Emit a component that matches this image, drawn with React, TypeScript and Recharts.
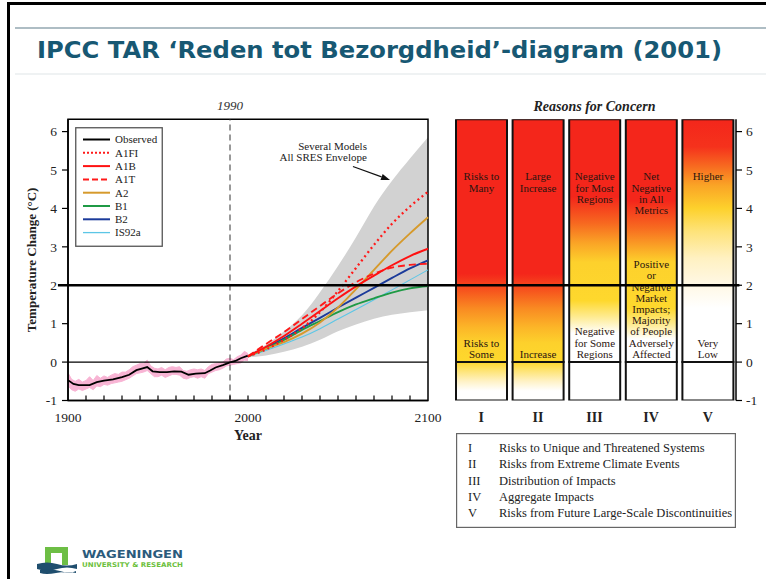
import React from 'react';
import {
  ComposedChart, Line, Area, XAxis, YAxis, ReferenceLine, ReferenceArea, Legend,
  BarChart, Bar, Cell, LabelList,
} from 'recharts';

const W = 766;
const H = 579;
const SERIF = '"Liberation Serif", "Times New Roman", Times, serif';

// ---------------- Left panel: temperature change ----------------
const observedYears = [1900, 1903, 1906, 1912, 1916, 1920, 1925, 1930, 1934, 1938, 1941, 1944, 1947, 1951, 1955, 1959, 1963, 1967, 1971, 1976, 1979, 1982, 1986, 1990, 1993, 1996, 2000];
const observedTemps = [-0.47, -0.57, -0.6, -0.6, -0.52, -0.48, -0.45, -0.39, -0.33, -0.21, -0.17, -0.13, -0.24, -0.26, -0.26, -0.24, -0.25, -0.33, -0.3, -0.29, -0.22, -0.14, -0.08, -0.01, 0.03, 0.1, 0.17];

const annualYears = [1900, 1902, 1904, 1906, 1908, 1910, 1912, 1914, 1916, 1918, 1920, 1922, 1924, 1926, 1928, 1930, 1932, 1934, 1936, 1938, 1940, 1942, 1944, 1946, 1948, 1950, 1952, 1954, 1956, 1958, 1960, 1962, 1964, 1966, 1968, 1970, 1972, 1974, 1976, 1978, 1980, 1982, 1984, 1986, 1988, 1990, 1992, 1994, 1996, 1998, 2000];
const annualLow = [-0.62, -0.72, -0.76, -0.7, -0.74, -0.7, -0.66, -0.72, -0.62, -0.64, -0.58, -0.6, -0.56, -0.54, -0.52, -0.5, -0.46, -0.42, -0.36, -0.3, -0.28, -0.26, -0.22, -0.3, -0.38, -0.38, -0.34, -0.4, -0.36, -0.32, -0.32, -0.34, -0.42, -0.44, -0.4, -0.38, -0.42, -0.38, -0.42, -0.3, -0.26, -0.22, -0.2, -0.16, -0.1, -0.08, -0.06, -0.04, -0.02, 0.05, 0.04];
const annualHigh = [-0.28, -0.45, -0.5, -0.45, -0.52, -0.48, -0.38, -0.48, -0.35, -0.42, -0.36, -0.4, -0.34, -0.3, -0.32, -0.26, -0.26, -0.2, -0.12, -0.08, -0.04, -0.04, 0.05, -0.1, -0.16, -0.18, -0.14, -0.2, -0.14, -0.12, -0.14, -0.12, -0.22, -0.24, -0.2, -0.18, -0.2, -0.18, -0.22, -0.12, -0.06, -0.04, -0.02, 0.0, 0.08, 0.1, 0.06, 0.14, 0.18, 0.28, 0.22];

const projectionYears = [2000, 2010, 2020, 2030, 2040, 2050, 2060, 2070, 2080, 2090, 2100];
const envelopeLow = [0.12, 0.17, 0.27, 0.4, 0.58, 0.8, 0.98, 1.13, 1.23, 1.3, 1.35];
const envelopeHigh = [0.2, 0.45, 0.8, 1.22, 1.82, 2.5, 3.25, 4.05, 4.72, 5.3, 5.85];
const a1fiTemps = [0.15, 0.33, 0.58, 0.88, 1.3, 1.85, 2.45, 3.05, 3.6, 4.05, 4.43];
const a1bTemps = [0.15, 0.4, 0.68, 1.0, 1.33, 1.66, 1.97, 2.25, 2.52, 2.76, 2.95];
const a1tTemps = [0.15, 0.47, 0.78, 1.12, 1.46, 1.79, 2.08, 2.3, 2.46, 2.53, 2.56];
const a2Temps = [0.15, 0.35, 0.52, 0.74, 1.03, 1.42, 1.9, 2.4, 2.9, 3.35, 3.77];
const b1Temps = [0.15, 0.35, 0.58, 0.84, 1.07, 1.3, 1.5, 1.66, 1.81, 1.92, 1.98];
const b2Temps = [0.15, 0.38, 0.62, 0.89, 1.15, 1.42, 1.68, 1.93, 2.19, 2.44, 2.65];
const is92aTemps = [0.15, 0.3, 0.47, 0.65, 0.87, 1.12, 1.37, 1.62, 1.88, 2.14, 2.4];

const seriesNames = ['Observed', 'A1FI', 'A1B', 'A1T', 'A2', 'B1', 'B2', 'IS92a'];
const scenarioNames = ['A1FI', 'A1B', 'A1T', 'A2', 'B1', 'B2', 'IS92a'];
const scenarioValues = [a1fiTemps, a1bTemps, a1tTemps, a2Temps, b1Temps, b2Temps, is92aTemps];

const tempTicks = [-1, 0, 1, 2, 3, 4, 5, 6];
const decadeTicks = [1900, 1910, 1920, 1930, 1940, 1950, 1960, 1970, 1980, 1990, 2000, 2010, 2020, 2030, 2040, 2050, 2060, 2070, 2080, 2090, 2100];
const yearLabels = [1900, 2000, 2100];
const baseYear = 1990;
const thresholdTemp = 2;
const tempMin = -1;
const tempMax = 6.32;
const envelopeNote = ['Several Models', 'All SRES Envelope'];

// ---------------- Right panel: reasons for concern ----------------
const concernIds = ['I', 'II', 'III', 'IV', 'V'];
const concernNames = [
  'Risks to Unique and Threatened Systems',
  'Risks from Extreme Climate Events',
  'Distribution of Impacts',
  'Aggregate Impacts',
  'Risks from Future Large-Scale Discontinuities',
];
const upperTexts = [
  ['Risks to', 'Many'],
  ['Large', 'Increase'],
  ['Negative', 'for Most', 'Regions'],
  ['Net', 'Negative', 'in All', 'Metrics'],
  ['Higher'],
];
const lowerTexts = [
  ['Risks to', 'Some'],
  ['Increase'],
  ['Negative', 'for Some', 'Regions'],
  ['Positive', 'or', 'Negative', 'Market', 'Impacts;', 'Majority', 'of People', 'Adversely', 'Affected'],
  ['Very', 'Low'],
];

// ---------------- Styles ----------------
const SERIES_STYLE: Record<string, { stroke: string; width: number; dash?: string }> = {
  Observed: { stroke: '#000000', width: 1.8 },
  A1FI: { stroke: '#ff1a1a', width: 2.3, dash: '2 3.2' },
  A1B: { stroke: '#ff1111', width: 1.9 },
  A1T: { stroke: '#ff1a1a', width: 1.9, dash: '7 4' },
  A2: { stroke: '#d69a2c', width: 1.9 },
  B1: { stroke: '#1f9a45', width: 1.9 },
  B2: { stroke: '#1b3a9a', width: 1.9 },
  IS92a: { stroke: '#5cc6e6', width: 1.1 },
};
const RED = '#f4261b';
const UPPER_STOPS: [number, string][][] = [
  [[6.32, RED], [2.3, RED], [1.9, '#f6501d'], [1.4, '#f98a22'], [0.9, '#fcb628'], [0.5, '#fdd12c'], [0, '#fed82d']],
  [[6.32, RED], [2.3, RED], [1.9, '#f6501d'], [1.4, '#f98a22'], [0.9, '#fcb628'], [0.5, '#fdd12c'], [0, '#fed82d']],
  [[6.32, RED], [4.3, RED], [3.6, '#f76a20'], [3.1, '#faa426'], [2.6, '#fdd12c'], [1.6, '#fed82d'], [1.2, '#feea8c'], [0.75, '#ffffff'], [0, '#ffffff']],
  [[6.32, RED], [4.2, RED], [3.5, '#f76a20'], [3.0, '#faa426'], [2.6, '#fdd12c'], [1.4, '#fed82d'], [1.0, '#feea8c'], [0.6, '#ffffff'], [0, '#ffffff']],
  [[6.32, RED], [5.6, '#f5321c'], [5.1, '#f76a20'], [4.6, '#faa426'], [4.0, '#fdd12c'], [3.4, '#fee37a'], [2.7, '#fff1c2'], [2.0, '#fff8e6'], [1.4, '#ffffff'], [0, '#ffffff']],
];
const LOWER_STOPS: [number, string][][] = [
  [[0, '#fed62d'], [-0.25, '#fee57c'], [-0.5, '#fff2c6'], [-0.75, '#ffffff'], [-1, '#ffffff']],
  [[0, '#fed62d'], [-0.25, '#fee57c'], [-0.5, '#fff2c6'], [-0.75, '#ffffff'], [-1, '#ffffff']],
  [[0, '#ffffff'], [-1, '#ffffff']],
  [[0, '#ffffff'], [-1, '#ffffff']],
  [[0, '#ffffff'], [-1, '#ffffff']],
];

// ---------------- Derived tables ----------------
const observedData = observedYears.map((year, i) => ({ year, Observed: observedTemps[i] }));
const annualData = annualYears.map((year, i) => ({ year, annual: [annualLow[i], annualHigh[i]] }));
const projectionData = projectionYears.map((year, i) => {
  const row: any = { year, envelope: [envelopeLow[i], envelopeHigh[i]] };
  scenarioNames.forEach((n, k) => { row[n] = scenarioValues[k][i]; });
  return row;
});
const concernData = concernIds.map((id) => ({ id, high: tempMax, low: tempMin }));

// ---------------- Renderers ----------------
const YearTick = (p: any) => {
  const { x, y, payload } = p;
  const v = payload.value;
  return (
    <g>
      {v !== decadeTicks[0] && v !== decadeTicks[decadeTicks.length - 1] && (
        <line x1={x} x2={x} y1={y} y2={y - 5} stroke="#000" strokeWidth={1.2} />
      )}
      {yearLabels.includes(v) && (
        <text x={x} y={y + 21} textAnchor="middle" fontFamily={SERIF} fontSize={13.5} fill="#222">{v}</text>
      )}
    </g>
  );
};

const YearLabel = (p: any) => {
  const vb = p.viewBox || {};
  return (
    <text x={vb.x + vb.width / 2} y={vb.y + 39} textAnchor="middle" fontFamily={SERIF} fontWeight="bold" fontSize={14} fill="#222">Year</text>
  );
};

const TempLabel = (p: any) => {
  const vb = p.viewBox || {};
  const cx = vb.x + 4;
  const cy = vb.y + vb.height / 2;
  return (
    <text x={cx} y={cy} transform={`rotate(-90 ${cx} ${cy})`} textAnchor="middle" dominantBaseline="central" fontFamily={SERIF} fontWeight="bold" fontSize={13} fill="#222">Temperature Change (°C)</text>
  );
};

const BaseYearLabel = (p: any) => {
  const vb = p.viewBox || {};
  return (
    <text x={vb.x} y={vb.y - 9} textAnchor="middle" fontFamily={SERIF} fontStyle="italic" fontSize={13} fill="#333">{baseYear}</text>
  );
};

const ArrowShape = (p: any) => {
  const { x1, y1, x2, y2 } = p;
  const ang = Math.atan2(y2 - y1, x2 - x1);
  const L = 9, Wd = 3.2;
  const bx = x2 - L * Math.cos(ang), by = y2 - L * Math.sin(ang);
  const nx = -Math.sin(ang), ny = Math.cos(ang);
  return (
    <g>
      <line x1={x1} y1={y1} x2={bx} y2={by} stroke="#111" strokeWidth={1.2} />
      <polygon points={`${x2},${y2} ${bx + nx * Wd},${by + ny * Wd} ${bx - nx * Wd},${by - ny * Wd}`} fill="#111" />
      <text x={x1 + 14} y={y1 - 17} textAnchor="end" fontFamily={SERIF} fontSize={11} fill="#222">{envelopeNote[0]}</text>
      <text x={x1 + 14} y={y1 - 5.5} textAnchor="end" fontFamily={SERIF} fontSize={11} fill="#222">{envelopeNote[1]}</text>
    </g>
  );
};

const SeriesLegend = () => (
  <svg width={88} height={120} style={{ display: 'block' }}>
    <rect x={0.75} y={0.75} width={86.5} height={118.5} fill="#fff" stroke="#555" strokeWidth={1.3} />
    {seriesNames.map((n, i) => {
      const s = SERIES_STYLE[n];
      const cy = 12.5 + i * 13.3;
      return (
        <g key={n}>
          <line x1={8} x2={35} y1={cy} y2={cy} stroke={s.stroke} strokeWidth={s.width === 1.1 ? 1.3 : 2}
            strokeDasharray={n === 'A1FI' ? '2 2' : n === 'A1T' ? '6 3' : undefined} />
          <text x={40} y={cy + 3.8} fontFamily={SERIF} fontSize={11} fill="#222">{n}</text>
        </g>
      );
    })}
  </svg>
);

const RomanTick = (p: any) => {
  const { x, y, payload } = p;
  return (
    <text x={x} y={y + 21} textAnchor="middle" fontFamily={SERIF} fontWeight="bold" fontSize={14} fill="#222">{payload.value}</text>
  );
};

const BarText = (p: any) => {
  const vb = p.viewBox && p.viewBox.width !== undefined ? p.viewBox : p;
  const { x, y, width, height } = vb;
  const idx = concernIds.indexOf(p.value);
  if (idx < 0) return null;
  const unit = height / tempMax;
  const yOf = (v: number) => y + (tempMax - v) * unit;
  const cx = x + width / 2;
  const lh = 11.2;
  const upTop = yOf(4.83);
  const lo = lowerTexts[idx];
  const loBottom = yOf(0.21);
  return (
    <g fontFamily={SERIF} fontSize={11} fill="#2b1510" textAnchor="middle">
      {upperTexts[idx].map((t, i) => (
        <text key={'u' + i} x={cx} y={upTop + i * lh + 3.8}>{t}</text>
      ))}
      {lo.map((t, i) => (
        <text key={'l' + i} x={cx} y={loBottom - (lo.length - 1 - i) * lh + 3.8}>{t}</text>
      ))}
    </g>
  );
};

const ConcernLegend = () => (
  <svg width={280} height={95} style={{ display: 'block' }}>
    <rect x={0.6} y={0.6} width={278.8} height={93.8} fill="#fff" stroke="#666" strokeWidth={1.2} />
    {concernIds.map((id, i) => {
      const cy = 14.7 + i * 16.3;
      return (
        <g key={id} fontFamily={SERIF} fontSize={12.5} fill="#222">
          <text x={12} y={cy + 4.2}>{id}</text>
          <text x={43} y={cy + 4.2}>{concernNames[i]}</text>
        </g>
      );
    })}
  </svg>
);

const stopsToGradient = (id: string, stops: [number, string][], top: number, bottom: number) => (
  <linearGradient key={id} id={id} x1="0" y1="0" x2="0" y2="1">
    {stops.map(([v, c], k) => (
      <stop key={k} offset={(top - v) / (top - bottom)} stopColor={c} />
    ))}
  </linearGradient>
);

export default function App() {
  return (
    <div style={{ position: 'absolute', left: 0, top: 0, width: W, height: H, background: '#fff', overflow: 'hidden' }}>
      {/* Right panel */}
      <div style={{ position: 'absolute', left: 0, top: 0 }}>
        <BarChart width={W} height={H} data={concernData} stackOffset="sign" barSize={51}
          margin={{ top: 119.3, right: 0, bottom: 148.5, left: 453 }}>
          <defs>
            {UPPER_STOPS.map((s, i) => stopsToGradient('up' + i, s, tempMax, 0))}
            {LOWER_STOPS.map((s, i) => stopsToGradient('lo' + i, s, 0, tempMin))}
          </defs>
          <XAxis dataKey="id" axisLine={false} tickLine={false} tickSize={0} tickMargin={0} height={30} interval={0} tick={RomanTick} />
          <YAxis orientation="right" type="number" domain={[tempMin, tempMax]} allowDataOverflow ticks={tempTicks} width={30}
            tickSize={6} tickMargin={4} axisLine={{ stroke: '#000', strokeWidth: 1.5 }} tickLine={{ stroke: '#000', strokeWidth: 1.2 }}
            tick={{ fontFamily: SERIF, fontSize: 13.5, fill: '#222' }} />
          <Bar dataKey="low" stackId="s" isAnimationActive={false} stroke="#111" strokeWidth={2}>
            {concernData.map((d, i) => <Cell key={d.id} fill={`url(#lo${i})`} />)}
          </Bar>
          <Bar dataKey="high" stackId="s" isAnimationActive={false} stroke="#111" strokeWidth={2}>
            {concernData.map((d, i) => <Cell key={d.id} fill={`url(#up${i})`} />)}
            <LabelList dataKey="id" content={BarText} />
          </Bar>
          <Legend layout="vertical" align="center" verticalAlign="middle" content={ConcernLegend}
            wrapperStyle={{ left: 456, top: 433, width: 280, height: 95 }} />
        </BarChart>
      </div>

      {/* Left panel */}
      <div style={{ position: 'absolute', left: 0, top: 0 }}>
        <ComposedChart width={W} height={H} margin={{ top: 119.3, right: 338, bottom: 148.5, left: 28 }}>
          <XAxis dataKey="year" type="number" domain={[1900, 2100]} ticks={decadeTicks} interval={0} height={30}
            tickSize={0} tickMargin={0} tickLine={false} axisLine={{ stroke: '#000', strokeWidth: 1.5 }}
            tick={YearTick} label={YearLabel} allowDuplicatedCategory={false} />
          <YAxis type="number" domain={[tempMin, tempMax]} allowDataOverflow ticks={tempTicks} width={40}
            tickSize={6} tickMargin={5} axisLine={{ stroke: '#000', strokeWidth: 1.5 }} tickLine={{ stroke: '#000', strokeWidth: 1.2 }}
            tick={{ fontFamily: SERIF, fontSize: 13.5, fill: '#222' }} label={TempLabel} />
          <Area data={annualData} dataKey="annual" type="linear" fill="#f8b4d4" fillOpacity={1} stroke="#f8b4d4" strokeWidth={1}
            isAnimationActive={false} legendType="none" dot={false} activeDot={false} />
          <Area data={projectionData} dataKey="envelope" type="monotone" fill="#d2d2d2" fillOpacity={1} stroke="none"
            isAnimationActive={false} legendType="none" dot={false} activeDot={false} />
          <ReferenceLine y={0} stroke="#000" strokeWidth={1.3} />
          <ReferenceLine x={baseYear} stroke="#333" strokeWidth={1} strokeDasharray="6 4" label={BaseYearLabel} />
          <Line data={observedData} dataKey="Observed" type="linear" stroke={SERIES_STYLE.Observed.stroke}
            strokeWidth={SERIES_STYLE.Observed.width} dot={false} activeDot={false} isAnimationActive={false} />
          {[...scenarioNames].reverse().map((n) => (
            <Line key={n} data={projectionData} dataKey={n} type="monotone" stroke={SERIES_STYLE[n].stroke}
              strokeWidth={SERIES_STYLE[n].width} strokeDasharray={SERIES_STYLE[n].dash}
              dot={false} activeDot={false} isAnimationActive={false} />
          ))}
          <ReferenceArea x1={1900} x2={2100} y1={tempMin} y2={tempMax} fill="none" stroke="#000" strokeWidth={1.5} ifOverflow="visible" />
          <ReferenceLine segment={[{ x: 2058.3, y: 5.09 }, { x: 2078.9, y: 4.74 }]} ifOverflow="visible" shape={ArrowShape} />
          <ReferenceLine segment={[{ x: 1894.4, y: thresholdTemp }, { x: 2273, y: thresholdTemp }]} ifOverflow="visible"
            stroke="#000" strokeWidth={2.6} />
          <Legend layout="vertical" align="center" verticalAlign="middle" content={SeriesLegend}
            wrapperStyle={{ left: 75, top: 127, width: 88, height: 120 }} />
        </ComposedChart>
      </div>

      {/* Slide frame, title, panel heading and logo */}
      <svg width={W} height={H} style={{ position: 'absolute', left: 0, top: 0, pointerEvents: 'none' }}>
        <rect x={7} y={2} width={W} height={3} fill="#000" />
        <rect x={7} y={2} width={3} height={H} fill="#000" />
        <line x1={15} y1={28} x2={W} y2={28} stroke="#aebdc4" strokeWidth={2} />
        <line x1={15} y1={74} x2={W} y2={74} stroke="#dfe5e8" strokeWidth={1.2} />
        <text x={37} y={58} textLength={685} lengthAdjust="spacingAndGlyphs" fontFamily='"DejaVu Sans", Verdana, sans-serif'
          fontWeight="bold" fontSize={23} fill="#175873">IPCC TAR ‘Reden tot Bezorgdheid’-diagram (2001)</text>
        <text x={594.5} y={110.5} textAnchor="middle" fontFamily={SERIF} fontStyle="italic" fontWeight="bold" fontSize={14} fill="#222">Reasons for Concern</text>
        {/* logo */}
        <path d="M45 547 H68 V565 H62 V553 H51 V565 H45 Z" fill="#6dbe45" />
        <path d="M37 564 Q47 561 57 564 T77 564 L77 569 Q67 566 57 569 T37 569 Z" fill="#1f4e6e" />
        <path d="M40 570 Q50 568 60 571 T76 571 L76 573 Q66 571 56 573 T40 573 Z" fill="#1f4e6e" />
        <text x={82} y={558} textLength={101} lengthAdjust="spacingAndGlyphs" fontFamily='"DejaVu Sans", sans-serif' fontWeight="bold" fontSize={11} fill="#2b5b7c">WAGENINGEN</text>
        <text x={82} y={567} textLength={101} lengthAdjust="spacingAndGlyphs" fontFamily='"DejaVu Sans", sans-serif' fontWeight="bold" fontSize={6.5} fill="#6cbf3c">UNIVERSITY &amp; RESEARCH</text>
      </svg>
    </div>
  );
}
